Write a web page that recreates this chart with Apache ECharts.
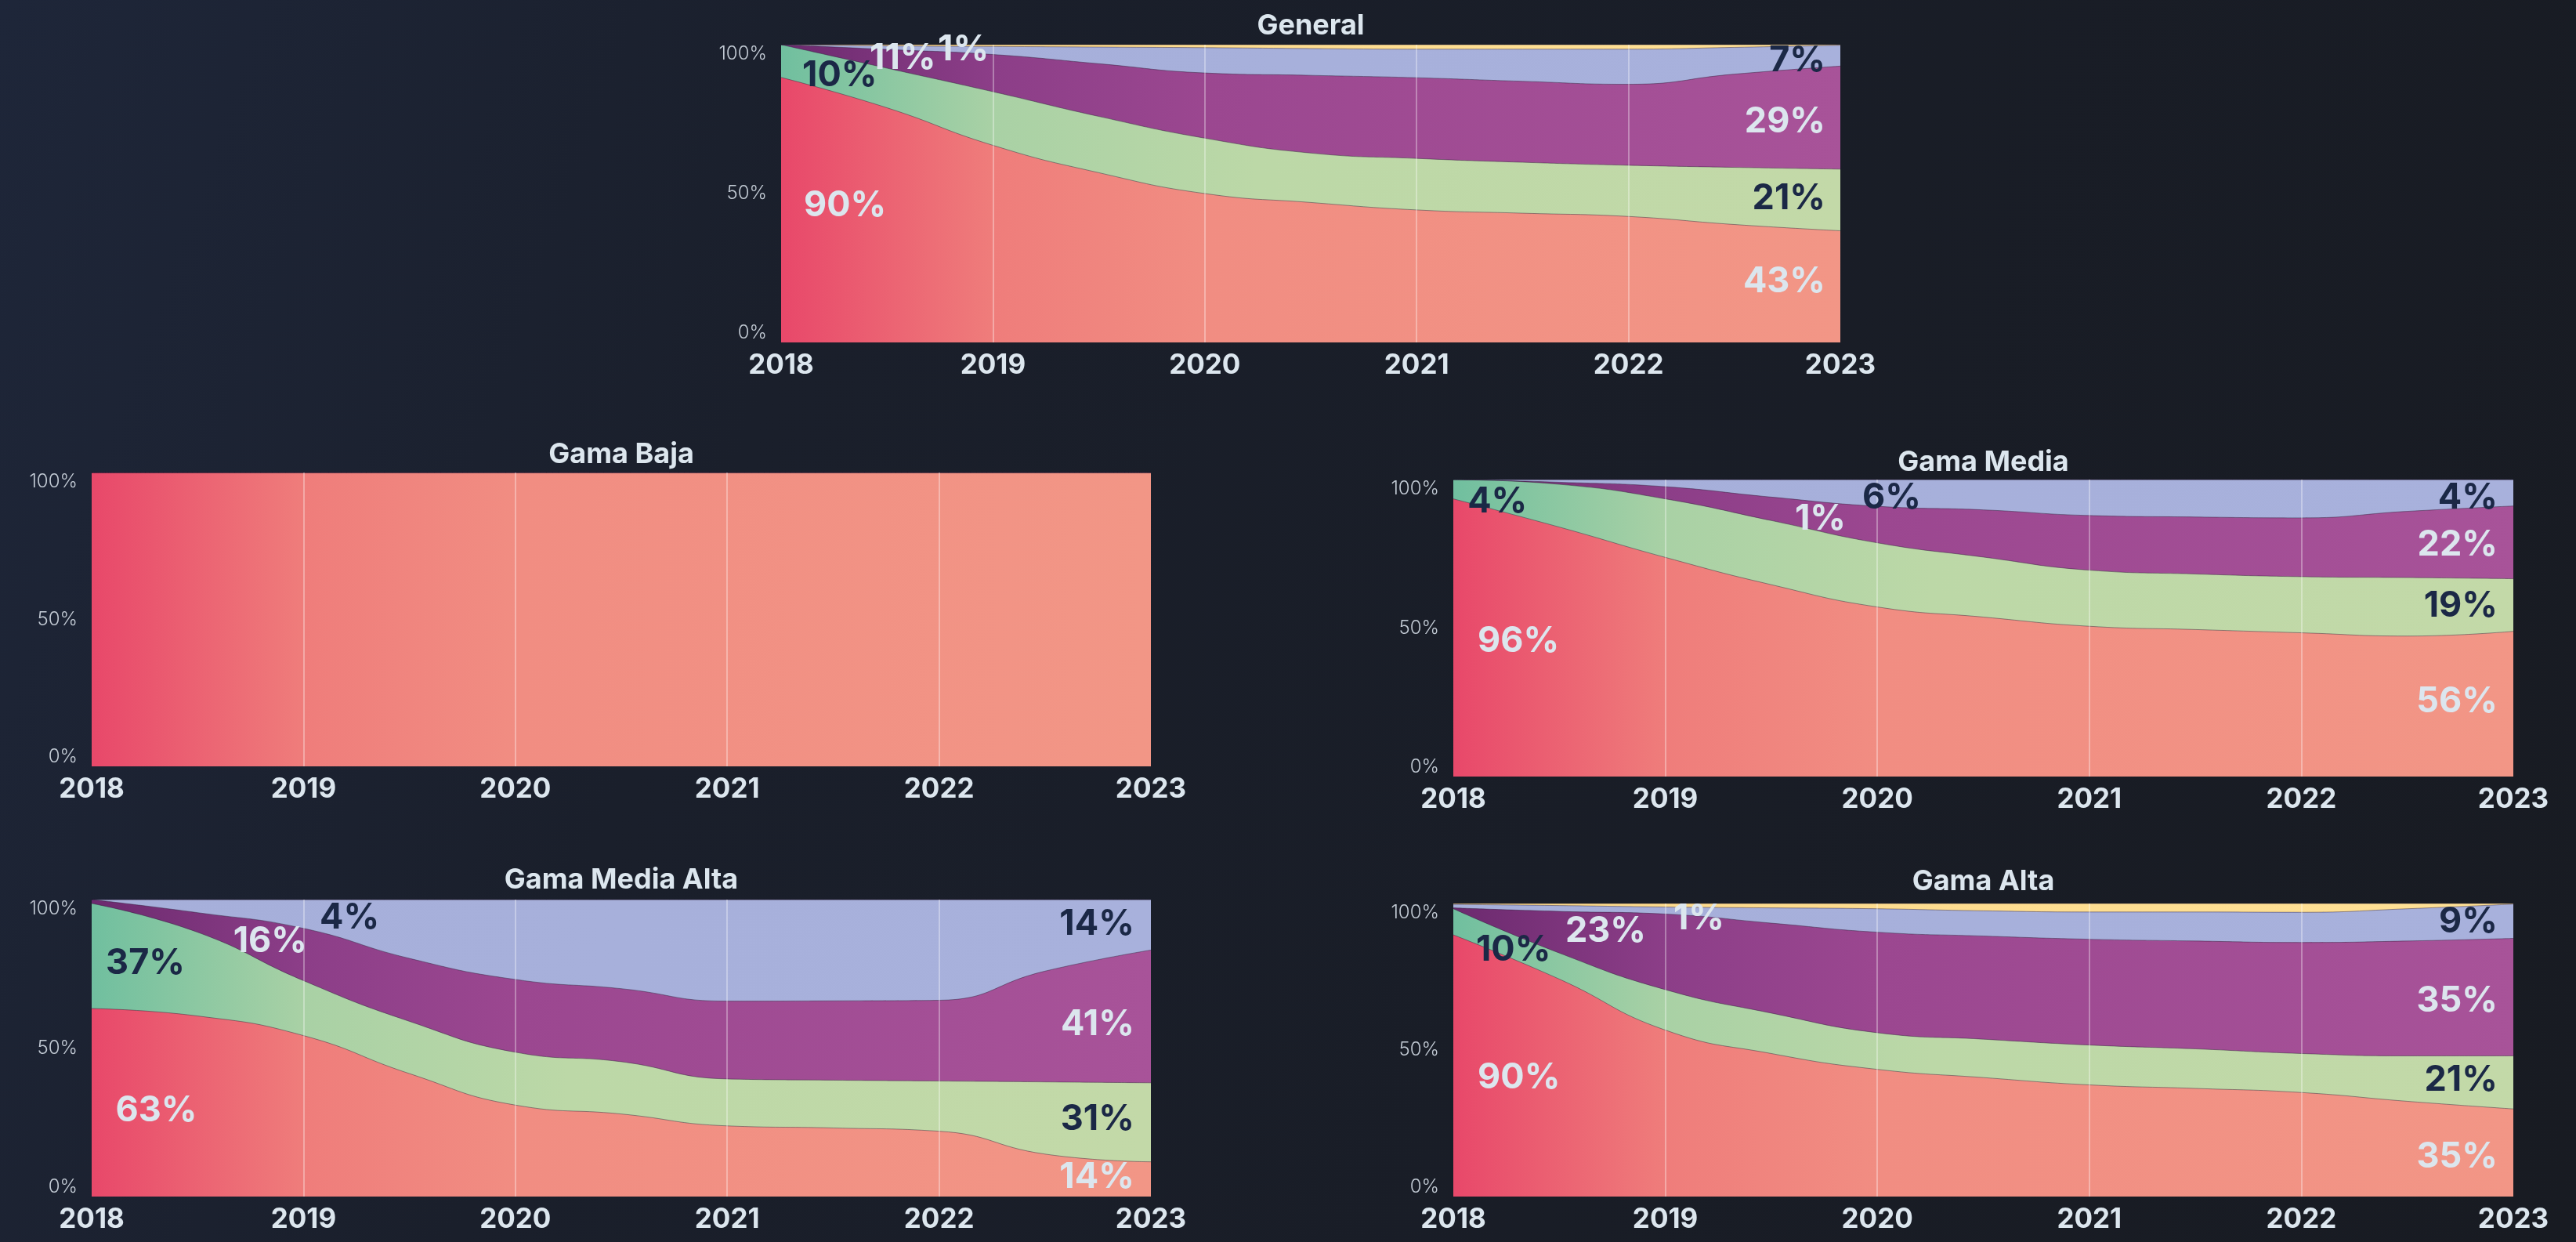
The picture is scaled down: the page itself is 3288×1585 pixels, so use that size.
<!DOCTYPE html>
<html>
<head>
<meta charset="UTF-8">
<title>Gamas 2018-2023</title>
<script type="text/javascript" src="https://cdn.jsdelivr.net/npm/echarts@6/dist/echarts.min.js"></script>
<style>
html,body{margin:0;padding:0;}
body{width:3288px;height:1585px;background:linear-gradient(110deg,#1e2639 0%,#1a1f2b 30%,#181b22 100%);}
#main{width:3288px;height:1585px;}
</style>
</head>
<body>
<div id="main"></div>

<script type="text/javascript">
// eje x (semestres) y ticks
var years = [2018, 2018.5, 2019, 2019.5, 2020, 2020.5, 2021, 2021.5, 2022, 2022.5, 2023];
var yearTicks = [2018, 2019, 2020, 2021, 2022, 2023];
var pctTicks = [0, 50, 100];
var titles = ['General', 'Gama Baja', 'Gama Media', 'Gama Media Alta', 'Gama Alta'];

// General
var generalRojo     = [89.0, 78.8, 66.2, 57.0, 50.0, 47.0, 44.5, 43.4, 42.3, 39.6, 37.5];
var generalVerde    = [11.0, 13.3, 18.0, 18.9, 18.6, 16.6, 17.3, 17.1, 17.2, 19.2, 20.7];
var generalMorado   = [0, 6.3, 12.5, 17.7, 21.9, 26.1, 27.1, 27.2, 27.2, 31.3, 34.6];
var generalLavanda  = [0, 1.2, 2.7, 5.6, 8.5, 9.0, 9.6, 10.8, 11.8, 9.0, 7.0];
var generalAmarillo = [0, 0.4, 0.6, 0.8, 1.0, 1.3, 1.5, 1.5, 1.5, 0.9, 0.2];

// Gama Baja
var bajaRojo     = [100, 100, 100, 100, 100, 100, 100, 100, 100, 100, 100];
var bajaVerde    = [0, 0, 0, 0, 0, 0, 0, 0, 0, 0, 0];
var bajaMorado   = [0, 0, 0, 0, 0, 0, 0, 0, 0, 0, 0];
var bajaLavanda  = [0, 0, 0, 0, 0, 0, 0, 0, 0, 0, 0];
var bajaAmarillo = [0, 0, 0, 0, 0, 0, 0, 0, 0, 0, 0];

// Gama Media
var mediaRojo     = [93.5, 84.0, 73.8, 64.6, 57.1, 53.7, 50.6, 49.5, 48.4, 47.3, 48.9];
var mediaVerde    = [6.5, 14.4, 19.7, 21.6, 21.6, 20.2, 18.9, 18.7, 18.9, 19.7, 17.7];
var mediaMorado   = [0, 0.7, 4.1, 7.9, 12.3, 15.9, 18.4, 19.2, 19.8, 22.3, 24.5];
var mediaLavanda  = [0, 0.9, 2.4, 5.9, 9.0, 10.2, 12.1, 12.6, 12.9, 10.7, 8.9];
var mediaAmarillo = [0, 0, 0, 0, 0, 0, 0, 0, 0, 0, 0];

// Gama Media Alta
var mediaAltaRojo     = [63.3, 60.8, 54.2, 41.4, 30.8, 27.8, 23.8, 23.1, 22.0, 14.3, 11.7];
var mediaAltaVerde    = [35.4, 28.2, 18.5, 17.6, 17.8, 17.6, 15.8, 16.1, 16.9, 24.3, 26.6];
var mediaAltaMorado   = [1.3, 6.6, 17.6, 21.2, 24.5, 24.6, 26.2, 26.7, 27.2, 37.3, 44.7];
var mediaAltaLavanda  = [0, 4.4, 9.7, 19.8, 26.9, 30.0, 34.2, 34.1, 33.9, 24.1, 17.0];
var mediaAltaAmarillo = [0, 0, 0, 0, 0, 0, 0, 0, 0, 0, 0];

// Gama Alta
var altaRojo     = [89.3, 74.2, 56.8, 48.8, 43.4, 40.6, 38.1, 36.9, 35.5, 32.5, 29.9];
var altaVerde    = [8.9, 8.9, 13.8, 13.8, 12.5, 13.1, 13.6, 13.5, 13.3, 15.5, 18.1];
var altaMorado   = [0.3, 14.2, 25.8, 30.7, 34.3, 35.2, 36.1, 36.8, 37.9, 39.2, 40.1];
var altaLavanda  = [1.2, 2.0, 2.4, 5.2, 8.0, 8.6, 9.3, 9.9, 10.3, 11.0, 11.7];
var altaAmarillo = [0.3, 0.7, 1.2, 1.5, 1.8, 2.5, 2.9, 2.9, 3.0, 1.8, 0.2];

// etiquetas: texto, año, %, alineacion, color (l claro / d oscuro)
var generalLabels = [
  ['90%', 2018.107, 45.8, 'left', 'l'],
  ['10%', 2018.100, 89.5, 'left', 'd'],
  ['11%', 2018.418, 95.3, 'left', 'l'],
  ['1%', 2018.740, 98.4, 'left', 'l'],
  ['7%', 2022.930, 94.5, 'right', 'd'],
  ['29%', 2022.930, 74.2, 'right', 'l'],
  ['21%', 2022.930, 48.4, 'right', 'd'],
  ['43%', 2022.930, 20.3, 'right', 'l']
];
var bajaLabels = [];
var mediaLabels = [
  ['4%', 2018.067, 92.6, 'left', 'd'],
  ['96%', 2018.115, 45.6, 'left', 'l'],
  ['1%', 2019.611, 86.8, 'left', 'l'],
  ['6%', 2019.929, 93.9, 'left', 'd'],
  ['4%', 2022.926, 93.9, 'right', 'd'],
  ['22%', 2022.926, 78.1, 'right', 'l'],
  ['19%', 2022.926, 57.5, 'right', 'd'],
  ['56%', 2022.926, 25.3, 'right', 'l']
];
var mediaAltaLabels = [
  ['37%', 2018.067, 78.4, 'left', 'd'],
  ['63%', 2018.113, 29.0, 'left', 'l'],
  ['16%', 2018.668, 85.8, 'left', 'l'],
  ['4%', 2019.076, 93.7, 'left', 'd'],
  ['14%', 2022.922, 91.6, 'right', 'd'],
  ['41%', 2022.922, 58.0, 'right', 'l'],
  ['31%', 2022.922, 26.1, 'right', 'd'],
  ['14%', 2022.922, 6.6, 'right', 'l']
];
var altaLabels = [
  ['10%', 2018.107, 84.2, 'left', 'd'],
  ['90%', 2018.115, 40.6, 'left', 'l'],
  ['23%', 2018.528, 90.6, 'left', 'l'],
  ['1%', 2019.038, 94.9, 'left', 'l'],
  ['9%', 2022.926, 93.6, 'right', 'd'],
  ['35%', 2022.926, 66.8, 'right', 'l'],
  ['21%', 2022.926, 39.8, 'right', 'd'],
  ['35%', 2022.926, 13.4, 'right', 'l']
];

var FONT = 'Inter, "Noto Sans", sans-serif';
var LIGHT = '#dce6ee';
var DARK = '#1b2846';

var panels = [
  {grid: {left: 997, top: 57, width: 1352, height: 380}, titleY: 33,
   data: [generalRojo, generalVerde, generalMorado, generalLavanda, generalAmarillo], labels: generalLabels},
  {grid: {left: 117, top: 603, width: 1352, height: 375}, titleY: 580,
   data: [bajaRojo, bajaVerde, bajaMorado, bajaLavanda, bajaAmarillo], labels: bajaLabels},
  {grid: {left: 1855, top: 612, width: 1353, height: 379}, titleY: 590,
   data: [mediaRojo, mediaVerde, mediaMorado, mediaLavanda, mediaAmarillo], labels: mediaLabels},
  {grid: {left: 117, top: 1148, width: 1352, height: 379}, titleY: 1123,
   data: [mediaAltaRojo, mediaAltaVerde, mediaAltaMorado, mediaAltaLavanda, mediaAltaAmarillo], labels: mediaAltaLabels},
  {grid: {left: 1855, top: 1153, width: 1353, height: 374}, titleY: 1125,
   data: [altaRojo, altaVerde, altaMorado, altaLavanda, altaAmarillo], labels: altaLabels}
];

// degradados horizontales de cada capa
var fills = [
  [[0, '#e8486a'], [0.2, '#ef7d7b'], [0.4, '#f18d82'], [1, '#f29686']],
  [[0, '#70bf9f'], [0.2, '#a9d1a5'], [0.45, '#bcd8a7'], [1, '#c3d9a8']],
  [[0, '#6c2a6f'], [0.2, '#8c3e88'], [0.4, '#9b4790'], [1, '#a85399']],
  [[0, '#a6afda'], [1, '#a8b1dc']],
  [[0, '#fcd98a'], [1, '#ffe196']]
];
function grad(stops) {
  return new echarts.graphic.LinearGradient(0, 0, 1, 0, stops.map(function (s) {
    return {offset: s[0], color: s[1]};
  }));
}

var grids = [], xAxes = [], yAxes = [], series = [], titleList = [];
panels.forEach(function (p, gi) {
  grids.push({left: p.grid.left, top: p.grid.top, width: p.grid.width, height: p.grid.height, containLabel: false});
  xAxes.push({
    gridIndex: gi, type: 'value',
    min: yearTicks[0], max: yearTicks[yearTicks.length - 1], interval: 1,
    z: 5,
    axisLine: {show: false}, axisTick: {show: false},
    splitLine: {show: true, lineStyle: {width: 1.5,
      color: ['rgba(0,0,0,0)', 'rgba(255,255,255,0.45)', 'rgba(255,255,255,0.45)',
              'rgba(255,255,255,0.45)', 'rgba(255,255,255,0.45)', 'rgba(0,0,0,0)']}},
    axisLabel: {color: LIGHT, fontFamily: FONT, fontSize: 35, fontWeight: 700, margin: 12,
      formatter: function (v) { return String(v); }}
  });
  yAxes.push({
    gridIndex: gi, type: 'value',
    min: pctTicks[0], max: pctTicks[2], interval: pctTicks[1] - pctTicks[0],
    axisLine: {show: false}, axisTick: {show: false}, splitLine: {show: false},
    axisLabel: {color: '#c3cbd5', fontFamily: FONT, fontSize: 24, fontWeight: 300, margin: 18,
      formatter: '{value}%', verticalAlignMinLabel: 'bottom', verticalAlignMaxLabel: 'top'}
  });
  titleList.push({
    text: titles[gi], left: p.grid.left + p.grid.width / 2, top: p.titleY - 18,
    textAlign: 'center', padding: 0,
    textStyle: {color: LIGHT, fontFamily: FONT, fontSize: 36, fontWeight: 700, lineHeight: 36}
  });

  // capas apiladas: acumulado de abajo (rojo) hacia arriba (amarillo);
  // se dibuja primero la capa superior y cada area rellena hasta 0
  var cum = p.data.map(function (arr, si) {
    return years.map(function (y, i) {
      var s = 0;
      for (var k = 0; k <= si; k++) s += p.data[k][i];
      return Math.round(s * 100) / 100;
    });
  });
  for (var si = p.data.length - 1; si >= 0; si--) {
    series.push({
      type: 'line', xAxisIndex: gi, yAxisIndex: gi,
      data: years.map(function (y, i) { return [y, cum[si][i]]; }),
      smooth: 0.5, symbol: 'none', showSymbol: false,
      lineStyle: {width: 1, color: 'rgba(45,30,55,0.45)'},
      areaStyle: {color: grad(fills[si]), opacity: 1, origin: 'start'},
      silent: true, z: 2
    });
  }
});

var chart = echarts.init(document.getElementById('main'));
chart.setOption({
  backgroundColor: 'transparent',
  animation: false,
  title: titleList,
  grid: grids,
  xAxis: xAxes,
  yAxis: yAxes,
  series: series
});

// etiquetas de porcentaje sobre las areas
var texts = [];
panels.forEach(function (p, gi) {
  p.labels.forEach(function (l) {
    var pt = chart.convertToPixel({gridIndex: gi}, [l[1], l[2]]);
    texts.push({
      type: 'text', x: pt[0], y: pt[1], z: 20, silent: true,
      style: {text: l[0], align: l[3], verticalAlign: 'middle',
        fill: l[4] === 'd' ? DARK : LIGHT,
        fontFamily: FONT, fontSize: 45, fontWeight: 700}
    });
  });
});
chart.setOption({graphic: texts});
</script>
</body>
</html>
